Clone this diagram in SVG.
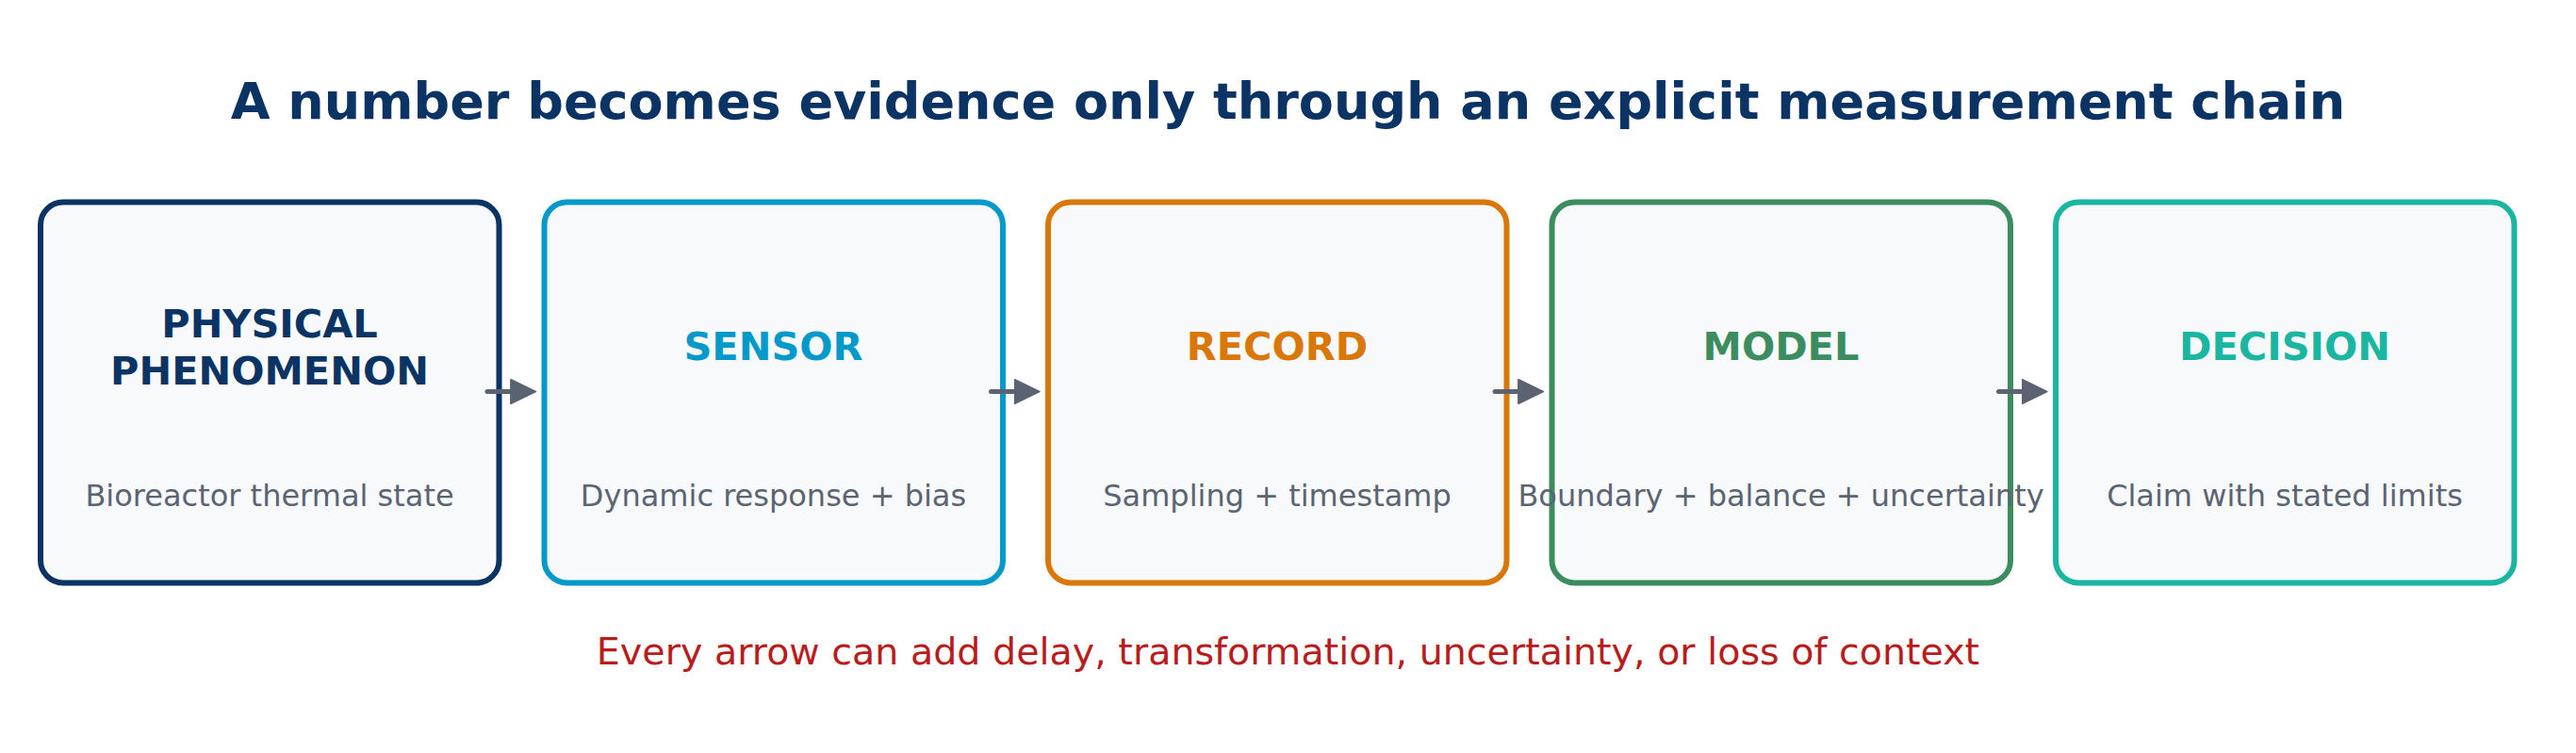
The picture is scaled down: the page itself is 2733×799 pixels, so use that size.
<svg xmlns="http://www.w3.org/2000/svg" width="2733" height="799" viewBox="0 0 2733 799">
  <style>
    .box { fill: #f7f9fb; stroke-width: 6; }
    .ttl { font-family: "DejaVu Sans", "Liberation Sans", sans-serif; font-weight: bold; font-size: 41.5px; text-anchor: middle; }
    .sub { font-family: "DejaVu Sans", "Liberation Sans", sans-serif; font-size: 32px; fill: #5b6472; text-anchor: middle; }
    .conn { stroke: #5b6372; stroke-width: 5; stroke-linecap: round; fill: none; }
  </style>
  <defs>
    <marker id="ah" markerUnits="userSpaceOnUse" markerWidth="30" markerHeight="30" refX="1" refY="14" orient="auto" viewBox="-1 0 31 28">
      <path d="M0,1 L27,14 L0,27 Z" fill="#5b6372" stroke="#5b6372" stroke-width="2" stroke-linejoin="round"/>
    </marker>
  </defs>
  <rect width="2733" height="799" fill="#ffffff"/>
  <text x="1366.5" y="126" font-family="DejaVu Sans, Liberation Sans, sans-serif" font-weight="bold" font-size="54" fill="#0b3363" text-anchor="middle">A number becomes evidence only through an explicit measurement chain</text>

  <g id="node-physical">
    <rect class="box" x="43" y="214.5" width="486.5" height="404" rx="24" stroke="#0b3363"/>
    <text class="ttl" x="286" y="358" fill="#0b3363">PHYSICAL</text>
    <text class="ttl" x="286" y="408" fill="#0b3363">PHENOMENON</text>
    <text class="sub" x="286" y="537">Bioreactor thermal state</text>
  </g>
  <g id="node-sensor">
    <rect class="box" x="577.5" y="214.5" width="486.5" height="404" rx="24" stroke="#0399cb"/>
    <text class="ttl" x="820.5" y="382" fill="#0399cb">SENSOR</text>
    <text class="sub" x="820.5" y="537">Dynamic response + bias</text>
  </g>
  <g id="node-record">
    <rect class="box" x="1112" y="214.5" width="486.5" height="404" rx="24" stroke="#d97708"/>
    <text class="ttl" x="1355" y="382" fill="#d97708">RECORD</text>
    <text class="sub" x="1355" y="537">Sampling + timestamp</text>
  </g>
  <g id="node-model">
    <rect class="box" x="1646.5" y="214.5" width="486.5" height="404" rx="24" stroke="#3b8d5f"/>
    <text class="ttl" x="1889.5" y="382" fill="#3b8d5f">MODEL</text>
    <text class="sub" x="1889.5" y="537">Boundary + balance + uncertainty</text>
  </g>
  <g id="node-decision">
    <rect class="box" x="2181" y="214.5" width="486.5" height="404" rx="24" stroke="#1ab6a1"/>
    <text class="ttl" x="2424" y="382" fill="#1ab6a1">DECISION</text>
    <text class="sub" x="2424" y="537">Claim with stated limits</text>
  </g>

  <g id="connectors">
    <line class="conn" x1="517" y1="415.5" x2="543" y2="415.5" marker-end="url(#ah)"/>
    <line class="conn" x1="1051.5" y1="415.5" x2="1077.5" y2="415.5" marker-end="url(#ah)"/>
    <line class="conn" x1="1586" y1="415.5" x2="1612" y2="415.5" marker-end="url(#ah)"/>
    <line class="conn" x1="2120.5" y1="415.5" x2="2146.5" y2="415.5" marker-end="url(#ah)"/>
  </g>

  <text x="1366.5" y="705" font-family="DejaVu Sans, Liberation Sans, sans-serif" font-size="39.6" fill="#b91c1c" text-anchor="middle">Every arrow can add delay, transformation, uncertainty, or loss of context</text>
</svg>
